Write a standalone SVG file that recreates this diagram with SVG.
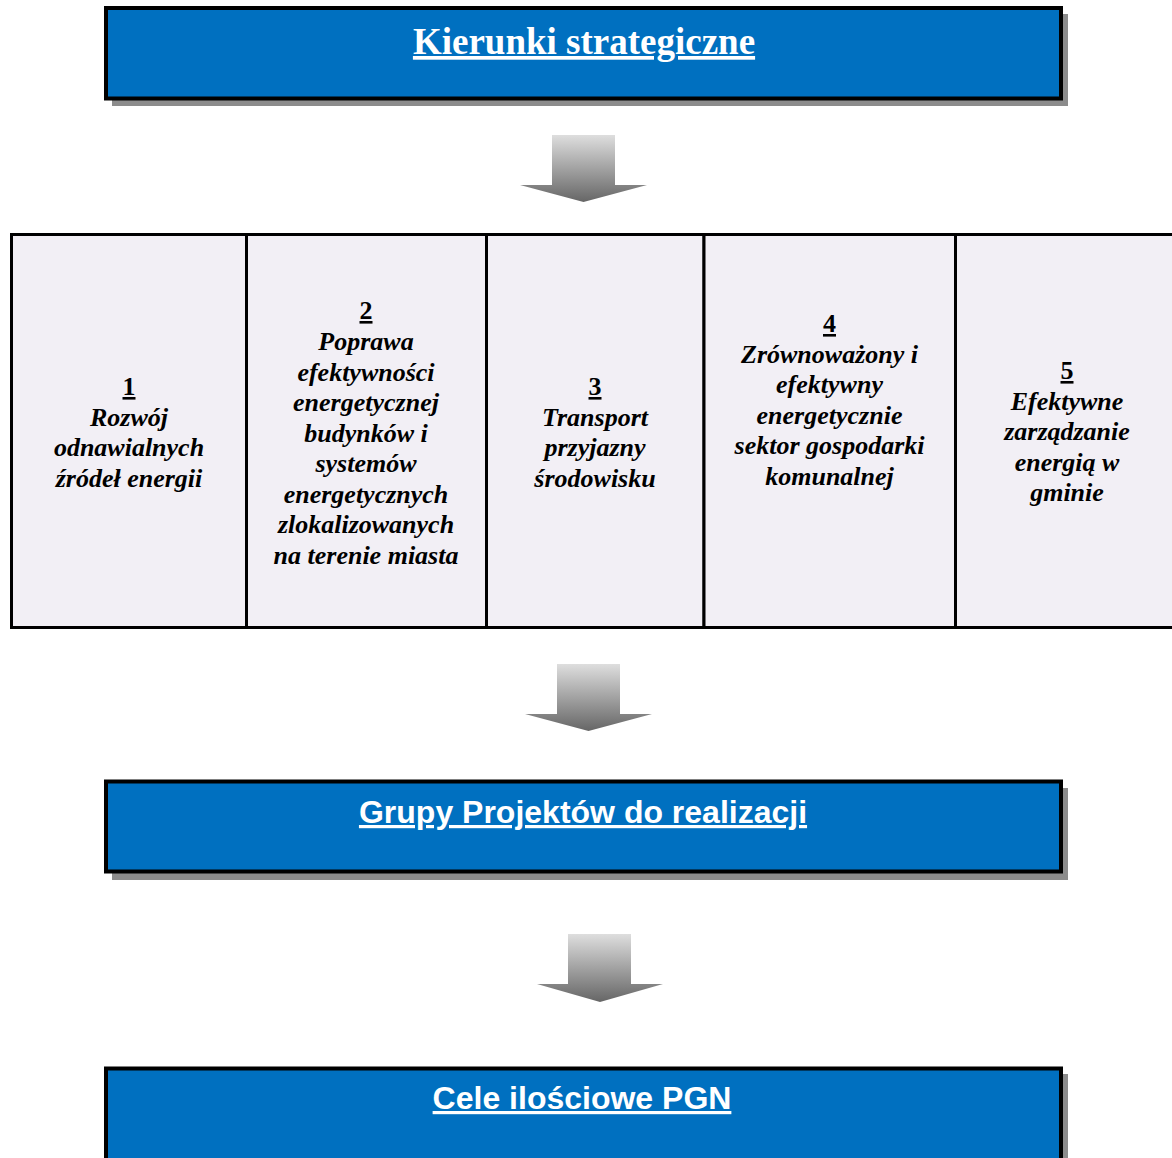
<svg xmlns="http://www.w3.org/2000/svg" width="1172" height="1158" viewBox="0 0 1172 1158">
<style>
.shadow{fill:#8c8c8c}
.blue{fill:#0070C0;stroke:#000;stroke-width:4}
.cell{fill:#f2eff5;stroke:#000;stroke-width:3}
.ttl{fill:#fff;font-weight:bold;text-anchor:middle;text-decoration:underline}
.serif{font-family:"Liberation Serif","Times New Roman",serif}
.sans{font-family:"Liberation Sans",Arial,sans-serif}
.ct{font-family:"Liberation Serif","Times New Roman",serif;font-size:26px;font-weight:bold;font-style:italic;text-anchor:middle;fill:#000}
.num{font-style:normal;text-decoration:underline}
.arrow{fill:url(#ag)}
</style>
<defs>
<linearGradient id="ag" x1="0" y1="0" x2="0" y2="1">
<stop offset="0" stop-color="#dedede"/>
<stop offset="1" stop-color="#666666"/>
</linearGradient>
</defs>
<rect width="1172" height="1158" fill="#fff"/>

<g id="kierunki">
<rect class="shadow" x="112" y="14" width="956" height="92"/>
<rect class="blue" x="106" y="8" width="955" height="90.5"/>
<text class="ttl serif" x="584" y="54" font-size="37">Kierunki strategiczne</text>
</g>

<g id="col1">
<rect class="cell" x="11.5" y="234.5" width="235" height="393"/>
<text class="ct"><tspan class="num" x="129" y="395">1</tspan><tspan x="129" y="425.5">Rozwój</tspan><tspan x="129" y="456">odnawialnych</tspan><tspan x="129" y="486.5">źródeł energii</tspan></text>
</g>
<g id="col2">
<rect class="cell" x="246.5" y="234.5" width="240" height="393"/>
<text class="ct"><tspan class="num" x="366" y="319">2</tspan><tspan x="366" y="350">Poprawa</tspan><tspan x="366" y="380.5">efektywności</tspan><tspan x="366" y="411">energetycznej</tspan><tspan x="366" y="441.5">budynków i</tspan><tspan x="366" y="472">systemów</tspan><tspan x="366" y="502.5">energetycznych</tspan><tspan x="366" y="533">zlokalizowanych</tspan><tspan x="366" y="563.5">na terenie miasta</tspan></text>
</g>
<g id="col3">
<rect class="cell" x="486.5" y="234.5" width="217.5" height="393"/>
<text class="ct"><tspan class="num" x="595" y="395">3</tspan><tspan x="595" y="425.5">Transport</tspan><tspan x="595" y="456">przyjazny</tspan><tspan x="595" y="486.5">środowisku</tspan></text>
</g>
<g id="col4">
<rect class="cell" x="704" y="234.5" width="251.5" height="393"/>
<text class="ct"><tspan class="num" x="829.5" y="332">4</tspan><tspan x="829.5" y="362.5">Zrównoważony i</tspan><tspan x="829.5" y="393">efektywny</tspan><tspan x="829.5" y="423.5">energetycznie</tspan><tspan x="829.5" y="454">sektor gospodarki</tspan><tspan x="829.5" y="484.5">komunalnej</tspan></text>
</g>
<g id="col5">
<rect class="cell" x="955.5" y="234.5" width="230" height="393"/>
<text class="ct"><tspan class="num" x="1067" y="379">5</tspan><tspan x="1067" y="409.5">Efektywne</tspan><tspan x="1067" y="440">zarządzanie</tspan><tspan x="1067" y="470.5">energią w</tspan><tspan x="1067" y="501">gminie</tspan></text>
</g>

<g id="grupy">
<rect class="shadow" x="112" y="788" width="956" height="92"/>
<rect class="blue" x="106" y="781.5" width="955" height="90"/>
<text class="ttl sans" x="583" y="823" font-size="32">Grupy Projektów do realizacji</text>
</g>

<g id="cele">
<rect class="shadow" x="112" y="1074" width="956" height="100"/>
<rect class="blue" x="106" y="1068.5" width="955" height="100"/>
<text class="ttl sans" x="582" y="1109" font-size="32">Cele ilościowe PGN</text>
</g>

<g id="connectors">
<polygon class="arrow" points="552,135 615,135 615,185 647,185 583.5,202 520,185 552,185"/>
<polygon class="arrow" points="557,664 620,664 620,714 652,714 588.5,731 525,714 557,714"/>
<polygon class="arrow" points="568,934 631,934 631,984 663,984 600,1002 537,984 568,984"/>
</g>
</svg>
